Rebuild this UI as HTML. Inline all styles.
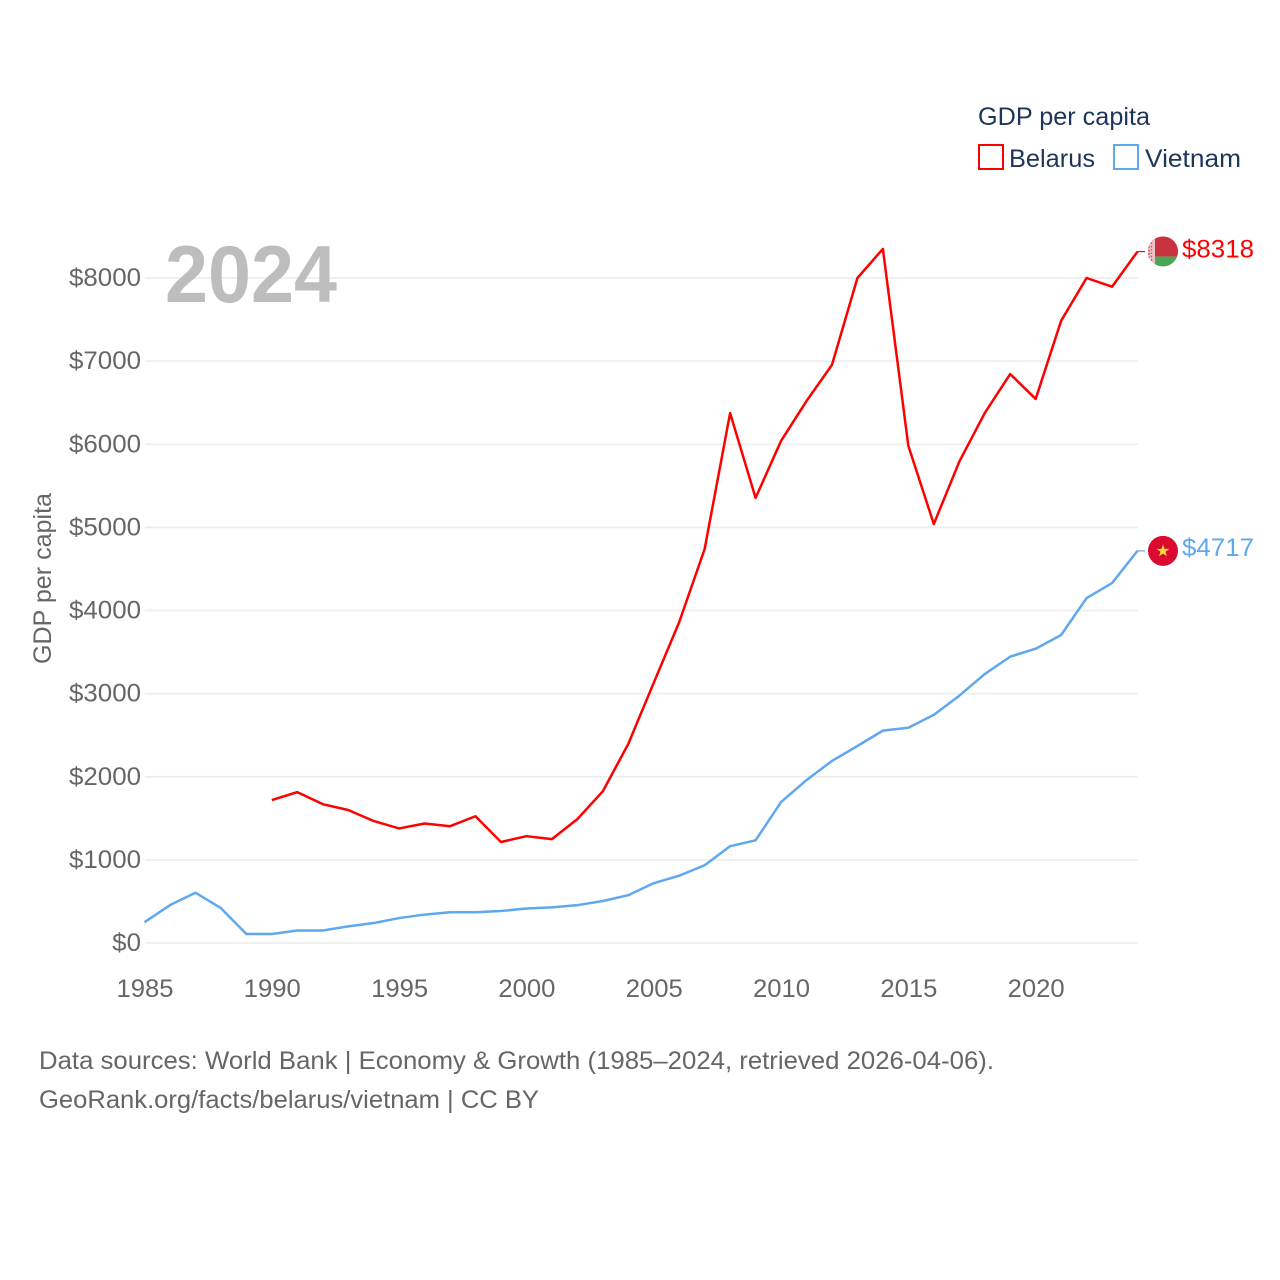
<!DOCTYPE html>
<html lang="en">
<head>
<meta charset="utf-8">
<title>GDP per capita: Belarus and Vietnam</title>
<style>
html,body{margin:0;padding:0;background:#fff}
svg{display:block}
text{font-family:"Liberation Sans","DejaVu Sans",sans-serif}
</style>
</head>
<body>
<svg id="chart" xmlns="http://www.w3.org/2000/svg" width="1280" height="1280" viewBox="0 0 1280 1280">
<rect width="1280" height="1280" fill="#fff"/>
<g id="grid"></g>
<g id="yticks"></g>
<g id="xticks"></g>
<text transform="translate(51,578.5) rotate(-90)" text-anchor="middle" font-size="25" fill="#666" textLength="171" lengthAdjust="spacingAndGlyphs">GDP per capita</text>
<text x="165" y="302" font-size="81" font-weight="700" fill="#bdbdbd" textLength="172" lengthAdjust="spacingAndGlyphs">2024</text>
<g id="series"></g>
<g id="ends"></g>
<g>
<text x="978" y="125" font-size="25" fill="#1d3557" textLength="172" lengthAdjust="spacingAndGlyphs">GDP per capita</text>
<rect x="979" y="145" width="24" height="24" fill="#fff" stroke="#ff0000" stroke-width="2"/>
<text x="1009" y="167" font-size="25" fill="#1d3557" textLength="86" lengthAdjust="spacingAndGlyphs">Belarus</text>
<rect x="1114" y="145" width="24" height="24" fill="#fff" stroke="#5fa8f0" stroke-width="2"/>
<text x="1145" y="167" font-size="25" fill="#1d3557" textLength="96" lengthAdjust="spacingAndGlyphs">Vietnam</text>
</g>
<g>
<text x="39" y="1069" font-size="25" fill="#666" textLength="955" lengthAdjust="spacingAndGlyphs">Data sources: World Bank | Economy &amp; Growth (1985–2024, retrieved 2026-04-06).</text>
<text x="39" y="1108" font-size="25" fill="#666" textLength="500" lengthAdjust="spacingAndGlyphs">GeoRank.org/facts/belarus/vietnam | CC BY</text>
</g>
</svg>
<script>
const years = [1985,1986,1987,1988,1989,1990,1991,1992,1993,1994,1995,1996,1997,1998,1999,2000,2001,2002,2003,2004,2005,2006,2007,2008,2009,2010,2011,2012,2013,2014,2015,2016,2017,2018,2019,2020,2021,2022,2023,2024];
const belarus = [null,null,null,null,null,1720,1815,1670,1600,1468,1378,1438,1405,1525,1215,1285,1250,1490,1825,2395,3130,3860,4740,6375,5355,6040,6520,6955,8000,8350,5980,5040,5790,6375,6845,6545,7485,8000,7895,8318];
const vietnam = [250,455,605,420,108,108,150,150,200,240,300,342,370,370,385,415,428,455,505,575,720,810,935,1165,1235,1695,1960,2190,2370,2555,2590,2745,2975,3235,3445,3540,3705,4150,4330,4717];
const yTickValues = [0,1000,2000,3000,4000,5000,6000,7000,8000];
const xTickValues = [1985,1990,1995,2000,2005,2010,2015,2020];

const NS = 'http://www.w3.org/2000/svg';
const xScale = function (yr) { return 144.5 + (yr - 1985) * (1137.5 - 144.5) / (2024 - 1985); };
const yScale = function (v) { return 943 - v * (943 - 278) / 8000; };
function make(tag, parent) {
  const el = document.createElementNS(NS, tag);
  parent.appendChild(el);
  return el;
}
function set(el, props) {
  Object.keys(props).forEach(function (k) { el.setAttribute(k, props[k]); });
  return el;
}

const gridG = document.getElementById('grid');
const yG = document.getElementById('yticks');
yTickValues.forEach(function (v) {
  const line = make('line', gridG);
  
  
  set(line, {x1: 145, x2: 1138, y1: yScale(v), y2: yScale(v), stroke: '#eeeeee', 'stroke-width': 1.8});
  const label = make('text', yG);
  
  
  const text = '$' + v;
  set(label, {x: 141, y: yScale(v) + 8, 'text-anchor': 'end', 'font-size': 25, fill: '#666', textLength: text.length * 14.4, lengthAdjust: 'spacingAndGlyphs'});
  label.textContent = text;
});

const xG = document.getElementById('xticks');
xTickValues.forEach(function (yr) {
  const label = make('text', xG);
  
  
  set(label, {x: xScale(yr) + 0.5, y: 997, 'text-anchor': 'middle', 'font-size': 25, fill: '#666', textLength: 57, lengthAdjust: 'spacingAndGlyphs'});
  label.textContent = String(yr);
});

function linePath(values) {
  let d = '';
  values.forEach(function (v, i) {
    if (v === null) return;
    d += (d ? 'L' : 'M') + xScale(years[i]).toFixed(2) + ' ' + yScale(v).toFixed(2);
  });
  return d;
}

const seriesG = document.getElementById('series');
const belarusLine = make('path', seriesG);


set(belarusLine, {d: linePath(belarus), fill: 'none', stroke: '#ff0000', 'stroke-width': 2.5, 'stroke-linejoin': 'round'});
const vietnamLine = make('path', seriesG);


set(vietnamLine, {d: linePath(vietnam), fill: 'none', stroke: '#5fa8f0', 'stroke-width': 2.5, 'stroke-linejoin': 'round'});

const endsG = document.getElementById('ends');
const endX = xScale(2024);

// Belarus end marker
const byY = yScale(belarus[belarus.length - 1]);
const byConn = make('line', endsG);


set(byConn, {x1: endX, x2: endX + 7.5, y1: byY, y2: byY, stroke: '#ff0000', 'stroke-width': 1.2});
const byFlag = make('g', endsG);


set(byFlag, {transform: 'translate(' + (endX + 25.5) + ',' + byY + ')'});
const byRed = make('path', byFlag);


set(byRed, {d: 'M-14.1 5A15 15 0 1 1 14.1 5Z', fill: '#c8313e'});
const byGreen = make('path', byFlag);


set(byGreen, {d: 'M-14.1 5A15 15 0 0 0 14.1 5Z', fill: '#4aa657'});
const byHoist = make('path', byFlag);


set(byHoist, {d: 'M-8 -12.6A15 15 0 0 0 -8 12.6Z', fill: '#ecc4c7'});
const byDots = make('path', byFlag);


set(byDots, {d: 'M-11.5 -9V9M-13.8 -5V6', fill: 'none', stroke: '#d0535e', 'stroke-width': 1.5, 'stroke-dasharray': '1.5 1.8'});
const byLabel = make('text', endsG);


set(byLabel, {x: 1182, y: byY + 6, 'font-size': 25, fill: '#ff0000', textLength: 72, lengthAdjust: 'spacingAndGlyphs'});
byLabel.textContent = '$' + belarus[belarus.length - 1];

// Vietnam end marker
const vnY = yScale(vietnam[vietnam.length - 1]);
const vnConn = make('line', endsG);


set(vnConn, {x1: endX, x2: endX + 7.5, y1: vnY, y2: vnY, stroke: '#5fa8f0', 'stroke-width': 1.2});
const vnFlag = make('g', endsG);


set(vnFlag, {transform: 'translate(' + (endX + 25.5) + ',' + vnY + ')'});
const vnDisc = make('circle', vnFlag);


set(vnDisc, {r: 15, fill: '#da0b2e'});
const vnStar = make('path', vnFlag);


set(vnStar, {d: 'M0 -6.5L1.6 -2H6.3L2.5 .8L3.9 5.3L0 2.6L-3.9 5.3L-2.5 .8L-6.3 -2H-1.6Z', fill: '#ffd83a'});
const vnLabel = make('text', endsG);


set(vnLabel, {x: 1182, y: vnY + 5, 'font-size': 25, fill: '#5fa8f0', textLength: 72, lengthAdjust: 'spacingAndGlyphs'});
vnLabel.textContent = '$' + vietnam[vietnam.length - 1];
</script>
</body>
</html>
